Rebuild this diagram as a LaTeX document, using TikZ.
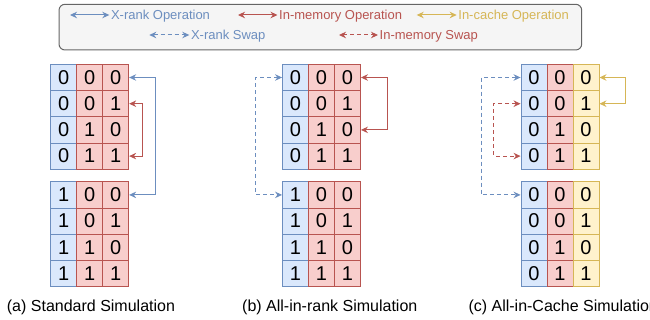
\documentclass[tikz,border=0pt]{standalone}
\usepackage{fontspec}
\setmainfont{Liberation Sans}
\usetikzlibrary{arrows.meta}
\definecolor{xrline}{HTML}{6C8EBF}
\definecolor{xrfill}{HTML}{DAE8FC}
\definecolor{memline}{HTML}{B85450}
\definecolor{memfill}{HTML}{F8CECC}
\definecolor{cacline}{HTML}{D6B656}
\definecolor{cacfill}{HTML}{FFF2CC}
\definecolor{legline}{HTML}{666666}
\definecolor{legfill}{HTML}{F5F5F5}
\tikzset{
  cell/.style={draw, line width=0.9pt, minimum width=26pt, minimum height=26.2pt, inner sep=0pt, font=\fontsize{20}{20}\selectfont},
  xr/.style={cell, draw=xrline, fill=xrfill},
  mem/.style={cell, draw=memline, fill=memfill},
  cac/.style={cell, draw=cacline, fill=cacfill},
  op/.style={<->, >={Stealth[length=7pt,width=6.5pt]}, line width=1pt},
  swp/.style={op, dash pattern=on 4pt off 3pt},
  ltxt/.style={anchor=west, inner xsep=1.5pt, inner ysep=0pt, text depth=0pt, font=\fontsize{13}{13}\selectfont},
  captxt/.style={anchor=base west, inner sep=0pt, font=\fontsize{16}{16}\selectfont}
}

\begin{document}
\begin{tikzpicture}[x=1pt, y=-1pt]
		\useasboundingbox (0,0) rectangle (650,320);
		% legend
		\draw[legline, fill=legfill, rounded corners=6pt, line width=1pt] (59,4.3) rectangle (581.7,50);
		\coordinate (k1) at (70,15);
		\coordinate (k2) at (238,15);
		\coordinate (k3) at (416.7,15);
		\coordinate (k4) at (149.3,35);
		\coordinate (k5) at (339,35);
		\node[ltxt, text=xrline] (t1) at (109.3,15) {X-rank Operation};
		\node[ltxt, text=memline] (t2) at (277.5,15) {In-memory Operation};
		\node[ltxt, text=cacline] (t3) at (456.7,15) {In-cache Operation};
		\node[ltxt, text=xrline] (t4) at (189.3,35) {X-rank Swap};
		\node[ltxt, text=memline] (t5) at (378,35) {In-memory Swap};
		\draw[op, xrline] (k1) -- (t1.west);
		\draw[op, memline] (k2) -- (t2.west);
		\draw[op, cacline] (k3) -- (t3.west);
		\draw[swp, xrline] (k4) -- (t4.west);
		\draw[swp, memline] (k5) -- (t5.west);
		% (a) standard
		\node[xr] (a11) at (63.7,77.5) {0}; \node[mem] (a12) at (89.7,77.5) {0}; \node[mem] (a13) at (115.7,77.5) {0};
		\node[xr] (a21) at (63.7,103.7) {0}; \node[mem] (a22) at (89.7,103.7) {0}; \node[mem] (a23) at (115.7,103.7) {1};
		\node[xr] (a31) at (63.7,129.9) {0}; \node[mem] (a32) at (89.7,129.9) {1}; \node[mem] (a33) at (115.7,129.9) {0};
		\node[xr] (a41) at (63.7,156.1) {0}; \node[mem] (a42) at (89.7,156.1) {1}; \node[mem] (a43) at (115.7,156.1) {1};
		\node[xr] (a51) at (63.7,194.9) {1}; \node[mem] (a52) at (89.7,194.9) {0}; \node[mem] (a53) at (115.7,194.9) {0};
		\node[xr] (a61) at (63.7,221.1) {1}; \node[mem] (a62) at (89.7,221.1) {0}; \node[mem] (a63) at (115.7,221.1) {1};
		\node[xr] (a71) at (63.7,247.3) {1}; \node[mem] (a72) at (89.7,247.3) {1}; \node[mem] (a73) at (115.7,247.3) {0};
		\node[xr] (a81) at (63.7,273.5) {1}; \node[mem] (a82) at (89.7,273.5) {1}; \node[mem] (a83) at (115.7,273.5) {1};
		\draw[op, xrline] (a13.east) -- ++(26.3,0) |- (a53.east);
		\draw[op, memline] (a23.east) -- ++(13.6,0) |- (a43.east);
		% (b) all-in-rank
		\node[xr] (b11) at (295.5,77.5) {0}; \node[mem] (b12) at (321.5,77.5) {0}; \node[mem] (b13) at (347.5,77.5) {0};
		\node[xr] (b21) at (295.5,103.7) {0}; \node[mem] (b22) at (321.5,103.7) {0}; \node[mem] (b23) at (347.5,103.7) {1};
		\node[xr] (b31) at (295.5,129.9) {0}; \node[mem] (b32) at (321.5,129.9) {1}; \node[mem] (b33) at (347.5,129.9) {0};
		\node[xr] (b41) at (295.5,156.1) {0}; \node[mem] (b42) at (321.5,156.1) {1}; \node[mem] (b43) at (347.5,156.1) {1};
		\node[xr] (b51) at (295.5,194.9) {1}; \node[mem] (b52) at (321.5,194.9) {0}; \node[mem] (b53) at (347.5,194.9) {0};
		\node[xr] (b61) at (295.5,221.1) {1}; \node[mem] (b62) at (321.5,221.1) {0}; \node[mem] (b63) at (347.5,221.1) {1};
		\node[xr] (b71) at (295.5,247.3) {1}; \node[mem] (b72) at (321.5,247.3) {1}; \node[mem] (b73) at (347.5,247.3) {0};
		\node[xr] (b81) at (295.5,273.5) {1}; \node[mem] (b82) at (321.5,273.5) {1}; \node[mem] (b83) at (347.5,273.5) {1};
		\draw[swp, xrline] (b11.west) -- ++(-26.5,0) |- (b51.west);
		\draw[op, memline] (b13.east) -- ++(26.2,0) |- (b33.east);
		% (c) all-in-cache
		\node[xr] (c11) at (534,77.5) {0}; \node[mem] (c12) at (560,77.5) {0}; \node[cac] (c13) at (586,77.5) {0};
		\node[xr] (c21) at (534,103.7) {0}; \node[mem] (c22) at (560,103.7) {0}; \node[cac] (c23) at (586,103.7) {1};
		\node[xr] (c31) at (534,129.9) {0}; \node[mem] (c32) at (560,129.9) {1}; \node[cac] (c33) at (586,129.9) {0};
		\node[xr] (c41) at (534,156.1) {0}; \node[mem] (c42) at (560,156.1) {1}; \node[cac] (c43) at (586,156.1) {1};
		\node[xr] (c51) at (534,194.9) {0}; \node[mem] (c52) at (560,194.9) {0}; \node[cac] (c53) at (586,194.9) {0};
		\node[xr] (c61) at (534,221.1) {0}; \node[mem] (c62) at (560,221.1) {0}; \node[cac] (c63) at (586,221.1) {1};
		\node[xr] (c71) at (534,247.3) {0}; \node[mem] (c72) at (560,247.3) {1}; \node[cac] (c73) at (586,247.3) {0};
		\node[xr] (c81) at (534,273.5) {0}; \node[mem] (c82) at (560,273.5) {1}; \node[cac] (c83) at (586,273.5) {1};
		\draw[swp, xrline] (c11.west) -- ++(-39.3,0) |- (c51.west);
		\draw[swp, memline] (c21.west) -- ++(-26.7,0) |- (c41.west);
		\draw[op, cacline] (c13.east) -- ++(26,0) |- (c23.east);
		% captions
		\node[captxt] (capa) at (6.7,311.3) {(a) Standard Simulation};
		\node[captxt] (capb) at (242,311.3) {(b) All-in-rank Simulation};
		\node[captxt] (capc) at (468.3,311.3) {(c) All-in-Cache Simulation};
	\end{tikzpicture}
\end{document}
